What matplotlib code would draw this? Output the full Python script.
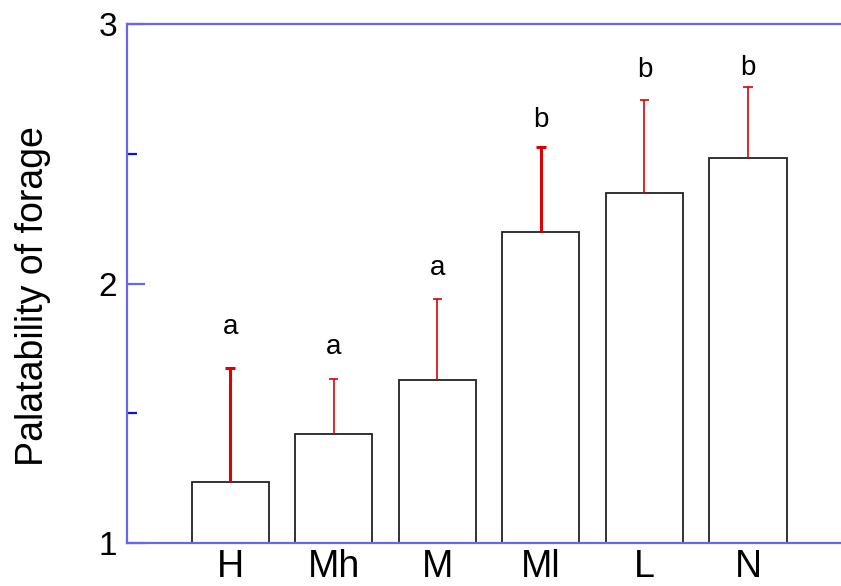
import matplotlib.pyplot as plt
import numpy as np
from matplotlib.ticker import MultipleLocator

plt.rcParams['font.family'] = ['Liberation Sans', 'DejaVu Sans']

groups = ['H', 'Mh', 'M', 'Ml', 'L', 'N']
means = [1.235, 1.42, 1.628, 2.198, 2.349, 2.484]
errs = [0.439, 0.212, 0.312, 0.328, 0.358, 0.273]
letters = ['a', 'a', 'a', 'b', 'b', 'b']
letter_y = [1.832, 1.755, 2.06, 2.63, 2.823, 2.83]
err_width = [2.2, 1.2, 1.2, 2.2, 1.2, 1.2]

fig = plt.figure(figsize=(8.41, 5.86), dpi=100)
ax = fig.add_axes([0.151, 0.0734, 0.848, 0.8856])

x = np.arange(len(groups))
ax.bar(x, means, width=0.745, bottom=0, color='white', edgecolor='#222222',
       linewidth=1.3, zorder=2)
cap = 0.045
for i in range(len(groups)):
    top = means[i] + errs[i]
    # upper error bar only, with a cap on top
    ax.plot([x[i], x[i]], [means[i], top], color='#dd0000',
            lw=err_width[i], zorder=3, solid_capstyle='butt')
    ax.plot([x[i] - cap, x[i] + cap], [top, top], color='#dd0000',
            lw=err_width[i], zorder=3, solid_capstyle='butt')
    ax.text(x[i], letter_y[i], letters[i], ha='center', va='center',
            fontsize=20, color='black')

ax.set_xlim(-0.996, 5.89)
ax.set_ylim(1, 3)
ax.set_xticks(x)
ax.set_xticklabels(groups, fontsize=27)
ax.set_yticks([1, 2, 3])
ax.set_yticklabels(['1', '2', '3'], fontsize=24)
ax.yaxis.set_minor_locator(MultipleLocator(0.5))
ax.set_ylabel('Palatability of forage', fontsize=27)
ax.yaxis.set_label_coords(-0.107, 0.475)

spine_col = '#6666ee'
for s in ['left', 'top', 'bottom']:
    ax.spines[s].set_color(spine_col)
    ax.spines[s].set_linewidth(1.6)
ax.spines['right'].set_visible(False)

ax.tick_params(axis='y', which='major', direction='in', length=13, width=1.6,
               color=spine_col, pad=7)
ax.tick_params(axis='y', which='minor', direction='in', length=7, width=1.6,
               color='#1111dd')
ax.tick_params(axis='x', which='both', length=0, pad=4)

fig.savefig('out.png', dpi=100)
